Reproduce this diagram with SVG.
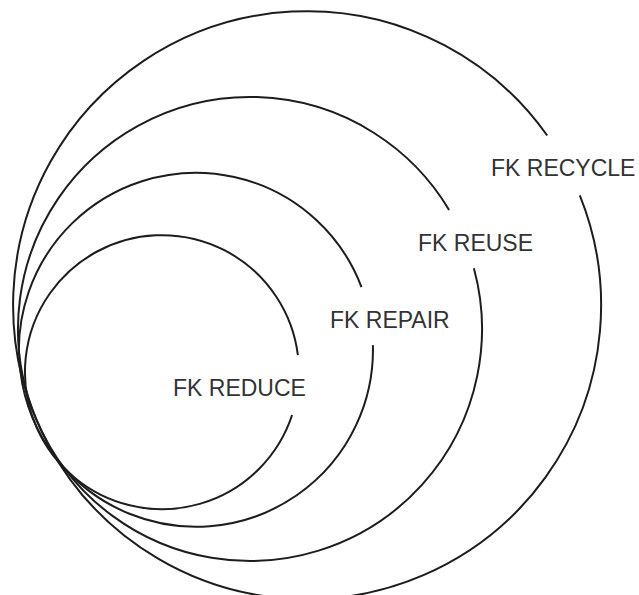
<svg xmlns="http://www.w3.org/2000/svg" width="639" height="595" viewBox="0 0 639 595">
<style>
.ring{fill:none;stroke:#1d1d1b;stroke-width:2}
.lbl{font-family:"Liberation Sans",Arial,sans-serif;font-size:23px;fill:#333;font-weight:300}
</style>
<rect width="639" height="595" fill="#fff"/>
<g id="recycle">
<path class="ring" d="M 579.8 195.3 A 294 294 0 1 1 547.2 135.5"/>
<text class="lbl" x="491" y="176">FK RECYCLE</text>
</g>
<g id="reuse">
<path class="ring" d="M 473.9 268.2 A 232 232 0 1 1 449.1 209.9"/>
<text class="lbl" x="418" y="251">FK REUSE</text>
</g>
<g id="repair">
<path class="ring" d="M 372.9 345.1 A 177 177 0 1 1 361.5 287.1"/>
<text class="lbl" x="330" y="328">FK REPAIR</text>
</g>
<g id="reduce">
<path class="ring" d="M 292.1 415 A 137 137 0 1 1 297.9 355.1"/>
<text class="lbl" x="173" y="396">FK REDUCE</text>
</g>
<g id="connectors"/>
</svg>
